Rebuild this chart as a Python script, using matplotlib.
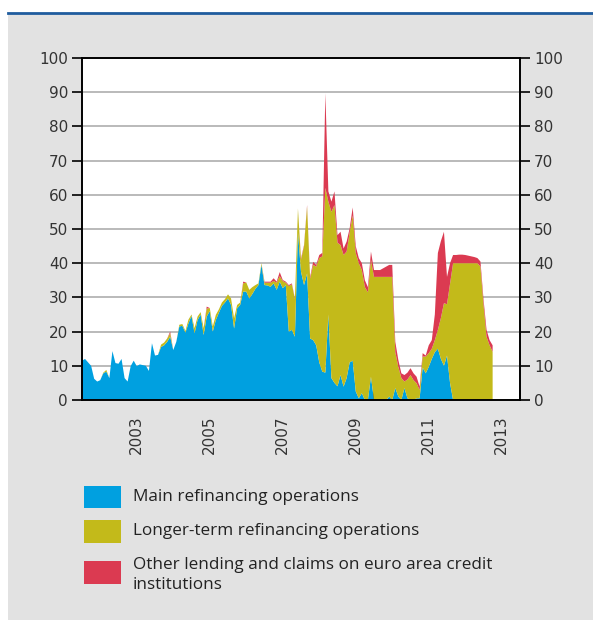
import numpy as np
import matplotlib.pyplot as plt
from matplotlib.patches import Rectangle
from matplotlib.lines import Line2D

# monthly values, Jan 2002 - Apr 2013, per cent
main_ops = [11.5, 12, 11, 10, 6.2, 5.4, 5.8, 7.8, 8.3, 6.4,
            14.3, 10.8, 10.6, 12, 6.4, 5.4, 9.9, 11.5, 9.9, 10.4,
            10.2, 10, 8.5, 16.6, 13, 13.2, 15.5, 16, 17, 18.5,
            14.6, 17, 21.5, 21.7, 19.7, 22.4, 24.6, 19.5, 23.4, 25,
            19, 24.4, 26, 20, 23.4, 25.5, 27.5, 28.5, 29.7, 27.8,
            20.9, 26.8, 27.8, 31.7, 31.7, 29.7, 31, 32.5, 33.6, 39.5,
            33.6, 33.5, 33.1, 34.1, 32.2, 34.6, 32.7, 33.6, 20, 20.5,
            18.5, 49, 37.5, 33.6, 37, 18, 17.5, 16, 11, 8.3,
            8, 25, 6.4, 5, 4, 7.3, 3.9, 6.4, 11, 11.5,
            2.5, 0.5, 2, 0, 0, 6.8, 0, 0, 0, 0,
            0, 1, 0, 3.5, 1, 0, 3.5, 0.5, 0, 0,
            0.5, 0.5, 9.5, 7.8, 9.7, 12, 14, 15, 12, 10,
            13, 5, 0, 0, 0, 0, 0, 0, 0, 0,
            0, 0, 0, 0, 0, 0]
longer_ops = [0, 0, 0, 0, 0, 0, 0, 0.2, 0.5, 0,
              0, 0, 0, 0, 0, 0, 0, 0, 0, 0,
              0, 0, 0, 0, 0, 0, 0.7, 0.8, 1.0, 1.0,
              0, 0, 0.5, 0.5, 0.5, 1.1, 0.4, 1.5, 1.0, 0.7,
              2.0, 2.3, 0.9, 1.5, 1.5, 1.0, 1.0, 1.0, 1.2, 1.9,
              3.0, 1.0, 0.7, 2.4, 2.7, 2.5, 2.0, 1.1, 0.5, 0.5,
              0.7, 0.8, 1.2, 0.7, 2.1, 1.6, 2.1, 0.7, 13.3, 13.3,
              11, 7, 3.5, 11.4, 19.5, 17.5, 22, 23, 30.5, 33.7,
              54, 33, 48.6, 52, 42, 38, 38.5, 37, 38, 42.5,
              40.5, 39.5, 36, 33, 31.5, 34.2, 36, 36, 36, 36,
              36, 35, 36, 10.5, 8.7, 6.4, 1.9, 5.5, 7.3, 5.8,
              4.4, 2.4, 3.2, 4.9, 4, 3, 3.5, 5.5, 12, 18.3,
              15, 29, 40, 40, 40, 40, 40, 40, 40, 40,
              40, 39, 28, 18.5, 16, 14.1]
other_ops = [0, 0, 0, 0, 0, 0, 0, 0, 0, 0,
             0, 0, 0, 0, 0, 0, 0, 0, 0, 0,
             0, 0, 0, 0, 0, 0, 0, 0, 0, 0.5,
             0, 0, 0, 0, 0, 0, 0, 0, 0, 0,
             0, 0.6, 0, 0, 0, 0, 0, 0, 0, 0,
             0, 0, 0, 0.5, 0, 0, 0, 0, 0, 0,
             0.3, 0.3, 0.3, 0.8, 0.3, 1.2, 0.3, 0.3, 0.3, 0.3,
             0.2, 0, 0.4, 0.3, 0.5, 0.5, 0.9, 0.5, 0.9, 1.0,
             27.7, 3, 3, 4, 2.2, 3.9, 1.9, 2.9, 1.2, 2.3,
             2, 1.5, 2, 2, 1.5, 2.4, 2, 2, 2, 2.5,
             3, 3.5, 3.5, 3, 2, 1.4, 1.9, 2, 2, 2,
             1.9, 1, 1, 0.3, 2.3, 2.5, 7.5, 22.5, 22.5, 20.9,
             8, 6, 2.4, 2.4, 2.5, 2.5, 2.4, 2.2, 2, 1.8,
             1.5, 1.5, 1.5, 2, 1.5, 1.9]

labels = ["Main refinancing operations",
          "Longer-term refinancing operations",
          "Other lending and claims on euro area credit\ninstitutions"]
colors = ["#00a0e0", "#c3ba1a", "#db3a51"]

start_year = 2002
years = start_year + np.arange(len(main_ops)) / 12.0
year_labels = ["2003", "2005", "2007", "2009", "2011", "2013"]

W, H = 593, 628
fig = plt.figure(figsize=(W / 100, H / 100), dpi=100)
fig.patch.set_facecolor("white")

# grey panel and blue rule on top
fig.patches.append(Rectangle((8 / W, 1 - 620 / H), 1 - 8 / W, (620 - 13) / H,
                             transform=fig.transFigure, facecolor="#e2e2e2",
                             edgecolor="none", zorder=-10))
fig.lines.append(Line2D([8 / W, 1], [1 - 12.5 / H, 1 - 12.5 / H],
                        transform=fig.transFigure, color="#1f5c9e", lw=2,
                        zorder=-5))

ax = fig.add_axes([82 / W, 1 - 400 / H, (520 - 82) / W, (400 - 58) / H])
ax.set_facecolor("white")
ax.stackplot(years, main_ops, longer_ops, other_ops, colors=colors,
             linewidth=0, zorder=2)

ax.set_xlim(2002, 2014)
ax.set_ylim(0, 100)
ax.set_yticks(range(0, 101, 10))
ax.grid(axis="y", color="#b4b4b4", lw=1.3, zorder=1)
ax.set_axisbelow(True)

ax.set_xticks(range(2002, 2015))
ax.set_xticklabels([])
ax.set_xticks([int(y) + 0.5 for y in year_labels], minor=True)
ax.set_xticklabels(year_labels, minor=True, rotation=90)
ax.tick_params(axis="x", which="major", direction="in", length=7, width=1.2,
               color="black", top=False)
ax.tick_params(axis="x", which="minor", length=0, pad=11, labelsize=11,
               labelcolor="#333333")
ax.tick_params(axis="y", direction="out", length=7, width=1.2,
               left=True, right=True, labelleft=True, labelright=True,
               labelsize=11, labelcolor="#333333", pad=3)
for s in ax.spines.values():
    s.set_linewidth(1.4)
    s.set_color("black")
    s.set_zorder(5)

# legend
rows = [(486, 508, 497), (520, 543, 531), (561, 584, 575)]
for (y0, y1, ty), lab, col in zip(rows, labels, colors):
    fig.patches.append(Rectangle((84 / W, 1 - y1 / H), 37 / W, (y1 - y0) / H,
                                 transform=fig.transFigure, facecolor=col,
                                 edgecolor="none"))
    fig.text(133 / W, 1 - ty / H, lab, fontsize=12.3, color="#222222",
             family=["Open Sans", "DejaVu Sans"], va="center",
             linespacing=1.3)

fig.savefig("out.png", dpi=100)
